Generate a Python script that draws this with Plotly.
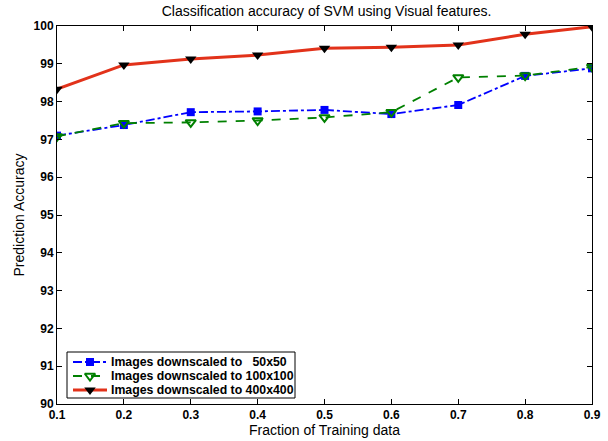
import plotly.graph_objects as go

fractions = [0.1, 0.2, 0.3, 0.4, 0.5, 0.6, 0.7, 0.8, 0.9]
acc_50 = [97.10, 97.38, 97.72, 97.74, 97.78, 97.67, 97.91, 98.68, 98.88]
acc_100 = [97.08, 97.43, 97.45, 97.50, 97.58, 97.72, 98.64, 98.69, 98.92]
acc_400 = [98.33, 98.97, 99.13, 99.23, 99.41, 99.44, 99.50, 99.78, 99.98]
names = ["Images downscaled to \u00a0\u00a050x50",
         "Images downscaled to 100x100",
         "Images downscaled to 400x400"]
x_ticks = [0.1, 0.2, 0.3, 0.4, 0.5, 0.6, 0.7, 0.8, 0.9]
y_ticks = list(range(90, 101))

# styles
colors = ["#0000ff", "#008000", "#e2321a"]
dashes = ["dashdot", "dash", "solid"]
widths = [1.8, 1.8, 3]
marker_styles = [
    dict(symbol="square", size=8, color="#0000ff"),
    dict(symbol="triangle-down-open", size=9, color="#008000", line=dict(width=2, color="#008000")),
    dict(symbol="triangle-down", size=10, color="black"),
]
FONT = "Liberation Sans"

# custom legend layout (pixel frame of the plot area)
PLOT_L, PLOT_R, PLOT_T, PLOT_B = 57, 592, 26, 404
LEG_BOX = (67, 295, 352, 398)
LEG_ROWS = [362, 376, 390]
LEG_LINE = (73, 107)
LEG_MARK = 90
LEG_TEXT = 109

fig = go.Figure()
series = [acc_50, acc_100, acc_400]
for i, vals in enumerate(series):
    fig.add_trace(go.Scatter(
        x=fractions, y=vals, name=names[i], mode="lines+markers",
        line=dict(color=colors[i], width=widths[i], dash=dashes[i]),
        marker=marker_styles[i], showlegend=False))

# legend samples on an overlay pixel frame
for i in range(3):
    fig.add_trace(go.Scatter(
        x=list(LEG_LINE), y=[LEG_ROWS[i]] * 2, mode="lines",
        line=dict(color=colors[i], width=widths[i], dash=dashes[i]),
        xaxis="x2", yaxis="y2", showlegend=False, hoverinfo="skip"))
    fig.add_trace(go.Scatter(
        x=[LEG_MARK], y=[LEG_ROWS[i]], mode="markers", marker=marker_styles[i],
        xaxis="x2", yaxis="y2", showlegend=False, hoverinfo="skip"))
    fig.add_annotation(
        x=LEG_TEXT, y=LEG_ROWS[i], xref="x2", yref="y2", text="<b>" + names[i] + "</b>",
        showarrow=False, xanchor="left", yanchor="middle",
        font=dict(family=FONT, size=12.3, color="black"))

fig.add_shape(type="rect", xref="x2", yref="y2",
              x0=LEG_BOX[0], x1=LEG_BOX[1], y0=LEG_BOX[2], y1=LEG_BOX[3],
              line=dict(color="black", width=1), fillcolor="white", layer="below")

axis_common = dict(showline=True, linecolor="black", linewidth=1, mirror="ticks",
                   ticks="inside", ticklen=5, tickcolor="black", showgrid=False,
                   zeroline=False, automargin=False,
                   tickfont=dict(family=FONT, size=12, color="black", weight="bold"))

fig.update_layout(
    width=608, height=441,
    margin=dict(l=PLOT_L, r=608 - PLOT_R, t=PLOT_T, b=441 - PLOT_B),
    paper_bgcolor="white", plot_bgcolor="white",
    title=dict(text="Classification accuracy of SVM using Visual features.",
               x=0.537, xanchor="center", y=0.985, yanchor="top",
               font=dict(family=FONT, size=14, color="black")),
    xaxis=dict(range=[0.1, 0.9], tickvals=x_ticks, ticktext=[f"{v:.1f}" for v in x_ticks],
               title=dict(text="Fraction of Training data", standoff=3,
                          font=dict(family=FONT, size=14, color="black")),
               **axis_common),
    yaxis=dict(range=[90, 100], tickvals=y_ticks,
               title=dict(text="Prediction Accuracy", standoff=5,
                          font=dict(family=FONT, size=14, color="black")),
               **axis_common),
    xaxis2=dict(overlaying="x", range=[PLOT_L, PLOT_R], visible=False, fixedrange=True),
    yaxis2=dict(overlaying="y", range=[PLOT_B, PLOT_T], visible=False, fixedrange=True),
    showlegend=False,
)

fig.write_html("out.html")
